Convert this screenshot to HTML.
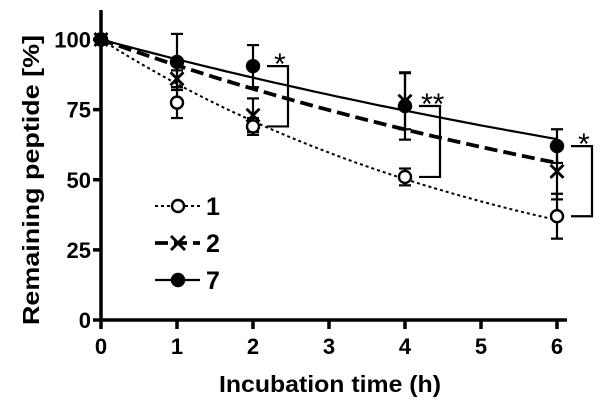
<!DOCTYPE html>
<html><head><meta charset="utf-8"><style>
body{margin:0;background:#fff;overflow:hidden}
svg text{font-family:"Liberation Sans",Arial,sans-serif;font-weight:bold;fill:#000}
</style></head><body>
<svg id="chart" width="600" height="404" viewBox="0 0 600 404" xmlns="http://www.w3.org/2000/svg" style="display:block">
<text transform="translate(39,180) rotate(-90)" text-anchor="middle" font-size="23" textLength="290" lengthAdjust="spacingAndGlyphs">Remaining peptide [%]</text>
<text x="330" y="392" text-anchor="middle" font-size="23" textLength="222" lengthAdjust="spacingAndGlyphs">Incubation time (h)</text>
</svg>
<script>
const xTicks=[0,1,2,3,4,5,6];
const yTicks=[0,25,50,75,100];
const times=[0,1,2,4,6];
const s1Values=[100,77.5,69,51,37];
const s1Err=[0,5.5,3,3,8];
const s2Values=[100,86,73,78,53];
const s2Err=[0,3,6,10,10];
const s7Values=[100,92,90.5,76.3,62];
const s7Err=[0,10,7.5,12,6];
const fitEnd1=35.6, fitEnd2=56, fitEnd7=64.5;
const seriesNames=["1","2","7"];
const sigLabels=["*","**","*"];
const sigTimes=[2,4,6];

const X=v=>101+v*76;
const Y=v=>320-v*2.805;
const svg=document.getElementById('chart');
const NS='http://www.w3.org/2000/svg';
function mk(tag,attrs,parent){const e=document.createElementNS(NS,tag);for(const k in attrs)e.setAttribute(k,attrs[k]);(parent||svg).appendChild(e);return e;}

function curve(end,dash,w,name){
  const k=Math.log(100/end)/6;let d='';
  for(let i=0;i<=60;i++){const t=i/10;d+=(i?'L':'M')+X(t).toFixed(1)+','+Y(100*Math.exp(-k*t)).toFixed(1);}
  const p=mk('path',{d:d,fill:'none',stroke:'#000','stroke-width':w,'stroke-dasharray':dash});
  
  
}
curve(fitEnd1,'3,3',2,'fit-line-1');
curve(fitEnd2,'13,6',3.8,'fit-line-2');
curve(fitEnd7,'none',2.2,'fit-line-7');

function errs(vals,er,name){
  times.forEach((t,i)=>{if(!er[i])return;const g=mk('g',{stroke:'#000','stroke-width':2.2});
    
    
    const x=X(t),y1=Y(vals[i]+er[i]),y2=Y(vals[i]-er[i]);
    mk('line',{x1:x,x2:x,y1:y1,y2:y2},g);mk('line',{x1:x-6,x2:x+6,y1:y1,y2:y1},g);mk('line',{x1:x-6,x2:x+6,y1:y2,y2:y2},g);});
}
errs(s1Values,s1Err,'series-1');errs(s2Values,s2Err,'series-2');errs(s7Values,s7Err,'series-7');

function circle(x,y,filled,name){const c=mk('circle',{cx:x,cy:y,r:6,fill:filled?'#000':'#fff',stroke:'#000','stroke-width':2.4});
  }
function cross(x,y,name){const g=mk('g',{stroke:'#000','stroke-width':2.8});
  
  mk('line',{x1:x-6.5,y1:y-6.5,x2:x+6.5,y2:y+6.5},g);mk('line',{x1:x-6.5,y1:y+6.5,x2:x+6.5,y2:y-6.5},g);}
times.forEach((t,i)=>{circle(X(t),Y(s1Values[i]),false,'point-1-'+t);});
times.forEach((t,i)=>{cross(X(t),Y(s2Values[i]),'point-2-'+t);});
times.forEach((t,i)=>{circle(X(t),Y(s7Values[i]),true,'point-7-'+t);});

sigTimes.forEach((t,i)=>{const idx=times.indexOf(t);const yt=Y(s7Values[idx]),yb=Y(s1Values[idx]);
  const x0=X(t)+14,x1=X(t)+35;
  const p=mk('path',{d:`M${x0},${yt}H${x1}V${yb}H${x0}`,fill:'none',stroke:'#000','stroke-width':2.2});
  
  const tx=mk('text',{x:x0+(sigLabels[i].length>1?2:7),y:yt+8,'font-size':30});
  
  tx.style.fontWeight='normal';tx.textContent=sigLabels[i];});

const ax=mk('g',{stroke:'#000','stroke-width':3.5});

mk('line',{x1:101,y1:10,x2:101,y2:321},ax);mk('line',{x1:99,y1:320,x2:567,y2:320},ax);
yTicks.forEach(v=>{mk('line',{x1:93,x2:101,y1:Y(v),y2:Y(v)},ax);
  const t=mk('text',{x:91,y:Y(v)+8,'text-anchor':'end','font-size':22});
  t.textContent=v;});
xTicks.forEach(v=>{mk('line',{x1:X(v),x2:X(v),y1:320,y2:329},ax);
  const t=mk('text',{x:X(v),y:354,'text-anchor':'middle','font-size':22});
  t.textContent=v;});

const leg=[['3,3',2,false,false],['13,6',3.8,false,true],['none',2.2,true,false]];
leg.forEach((l,i)=>{const y=206+i*37;const g=mk('g',{});
  
  mk('line',{x1:155,x2:200,y1:y,y2:y,stroke:'#000','stroke-width':l[1],'stroke-dasharray':l[0]},g);
  if(l[3]){mk('line',{x1:171,y1:y-7,x2:185,y2:y+7,stroke:'#000','stroke-width':2.8},g);mk('line',{x1:171,y1:y+7,x2:185,y2:y-7,stroke:'#000','stroke-width':2.8},g);}
  else mk('circle',{cx:178,cy:y,r:6,fill:l[2]?'#000':'#fff',stroke:'#000','stroke-width':2.4},g);
  const t=mk('text',{x:206,y:y+9,'font-size':25},g);t.textContent=seriesNames[i];});
</script>
</body></html>
